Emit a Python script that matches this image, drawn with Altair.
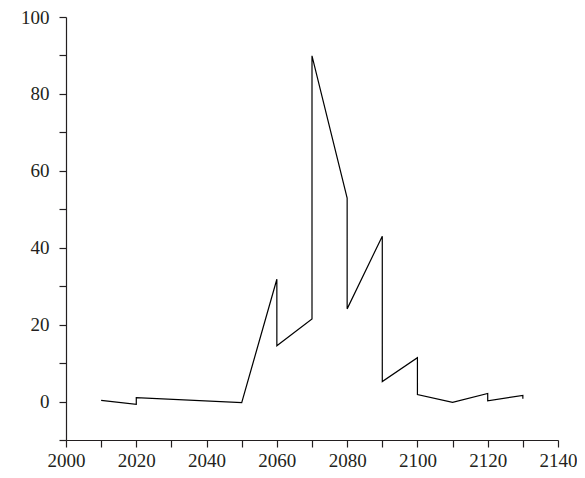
import altair as alt
import pandas as pd

years = [2010, 2020, 2020, 2050, 2060, 2060, 2070, 2070, 2080, 2080,
         2090, 2090, 2100, 2100, 2110, 2120, 2120, 2130, 2130]
values = [0.3, -0.7, 1.0, -0.3, 31.8, 14.5, 21.5, 89.9, 52.9, 24.1,
          43.0, 5.2, 11.4, 1.8, -0.2, 2.1, 0.2, 1.6, 0.7]

df = pd.DataFrame({"year": years, "value": values, "idx": list(range(len(years)))})

x_ticks = list(range(2000, 2141, 10))
y_ticks = list(range(-10, 101, 10))

font = "Liberation Serif"
txt = "#231f20"

xaxis = alt.Axis(values=x_ticks, labelExpr="datum.value % 20 == 0 ? datum.label : ''",
                 format="d", grid=False, domainColor=txt, tickColor=txt, tickSize=7,
                 labelFont=font, labelFontSize=19, labelColor=txt, labelPadding=4,
                 title=None, domainWidth=1.2, tickWidth=1.2, labelFlush=False)
yaxis = alt.Axis(values=y_ticks, labelExpr="datum.value % 20 == 0 ? datum.label : ''",
                 grid=False, domainColor=txt, tickColor=txt, tickSize=7,
                 labelFont=font, labelFontSize=19, labelColor=txt, labelPadding=10,
                 title=None, domainWidth=1.2, tickWidth=1.2)

chart = alt.Chart(df).mark_line(color="black", strokeWidth=1.2).encode(
    x=alt.X("year:Q", scale=alt.Scale(domain=[2000, 2140], nice=False, zero=False), axis=xaxis),
    y=alt.Y("value:Q", scale=alt.Scale(domain=[-10, 100], nice=False, zero=False), axis=yaxis),
    order="idx:Q",
).properties(
    width=569, height=462,
    autosize=alt.AutoSizeParams(type="fit", contains="padding"),
    padding={"left": 12, "top": 0, "right": 0, "bottom": 0},
    background="white",
).configure_view(strokeWidth=0, stroke="transparent")

chart.save("out.html", embed_options={"renderer": "svg", "actions": False})
